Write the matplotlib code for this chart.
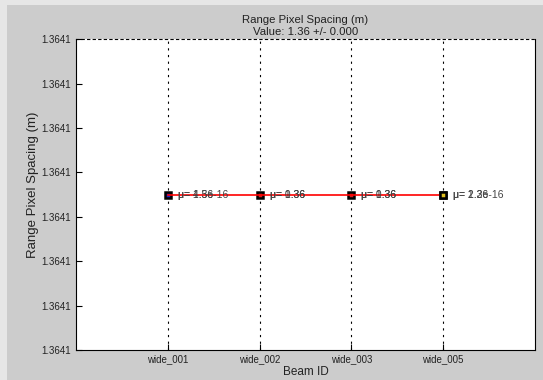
import matplotlib
matplotlib.use("Agg")
import matplotlib.pyplot as plt
from matplotlib.patches import Rectangle

beams = ["wide_001", "wide_002", "wide_003", "wide_005"]
values = [1.36410, 1.36410, 1.36410, 1.36410]
marker_colors = ["#2020c0", "#d02020", "#d02020", "#e0c020"]
labels_a = ["μ= 1.36", "μ= 1.36", "μ= 1.36", "μ= 1.36"]
labels_b = ["μ= 4.5e-16", "μ= 0.36", "μ= 0.36", "μ= 2.2e-16"]
title = "Range Pixel Spacing (m)\nValue: 1.36 +/- 0.000"

plt.rcParams['font.family'] = ['Liberation Sans', 'DejaVu Sans']

fig = plt.figure(figsize=(5.43, 3.80), dpi=100)
fig.patch.set_facecolor('#cccccc')
fig.patches.append(Rectangle((0, 0.987), 1, 0.013, transform=fig.transFigure,
                             facecolor='#e6e6e6', edgecolor='none', zorder=0))
fig.patches.append(Rectangle((0, 0), 0.012, 1, transform=fig.transFigure,
                             facecolor='#e6e6e6', edgecolor='none', zorder=0))

ax = fig.add_axes([0.14, 0.079, 0.845, 0.818])
ax.set_facecolor('white')

x = list(range(1, len(beams) + 1))
v0 = values[0]
d = 1e-6
ax.set_xlim(0, len(beams) + 1)
ax.set_ylim(v0 - 3.5 * d, v0 + 3.5 * d)

for xi, yi, c in zip(x, values, marker_colors):
    ax.plot([xi], [yi], marker='s', markersize=5, markerfacecolor=c,
            markeredgecolor='black', markeredgewidth=1.8, linestyle='none', zorder=3)
ax.plot(x, values, color='red', linewidth=1.2, zorder=4)
ax.plot([x[-1]], [values[-1]], marker='s', markersize=5, markerfacecolor=marker_colors[-1],
        markeredgecolor='black', markeredgewidth=1.8, linestyle='none', zorder=5)

for xi, yi, la, lb in zip(x, values, labels_a, labels_b):
    ax.text(xi + 0.11, yi, la, fontsize=7.5, color='#333333', va='center', ha='left', zorder=6)
    ax.text(xi + 0.11, yi, lb, fontsize=7.5, color='#444444', va='center', ha='left', zorder=6)

ax.set_xticks(x)
ax.set_xticklabels(beams, fontsize=7, color='#222222')
yt = [v0 - 3.5 * d + i * d for i in range(8)]
ax.set_yticks(yt)
ax.set_yticklabels(["%.4f" % t for t in yt], fontsize=7, color='#222222')
ax.tick_params(axis='both', direction='in', length=4, width=0.8)
ax.tick_params(axis='x', pad=3)
ax.tick_params(axis='y', pad=4)
ax.xaxis.grid(True, linestyle=(0, (2, 4)), color='black', linewidth=0.8)
ax.spines['top'].set_linestyle((0, (2, 3)))
ax.spines['top'].set_linewidth(0.8)
for s in ['left', 'bottom', 'right']:
    ax.spines[s].set_linewidth(0.8)

ax.set_xlabel("Beam ID", fontsize=8.5, color='#222222', labelpad=1)
ax.set_ylabel("Range Pixel Spacing (m)", fontsize=9.5, color='#222222')
ax.yaxis.set_label_coords(-0.08, 0.53)
ax.set_title(title, fontsize=8.2, color='#222222', pad=3, linespacing=1.25)

fig.savefig("out.png", dpi=100, facecolor=fig.get_facecolor())
